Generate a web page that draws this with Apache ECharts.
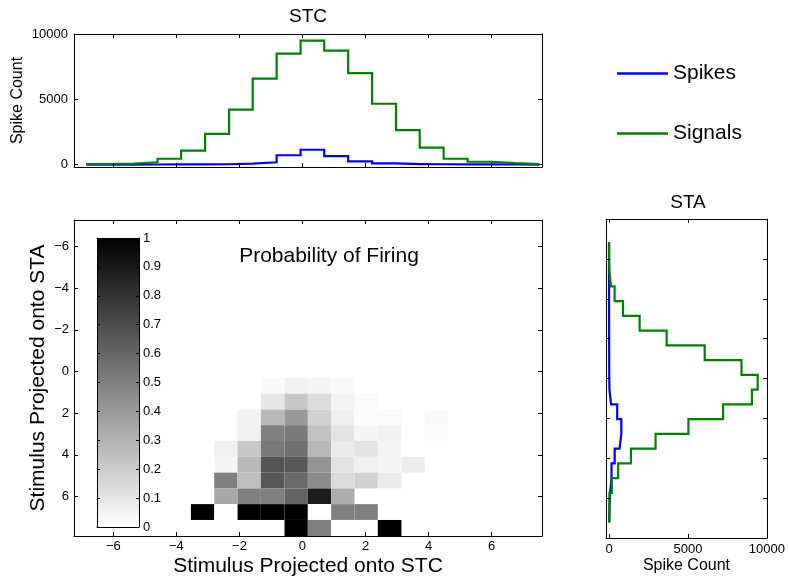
<!DOCTYPE html>
<html>
<head>
<meta charset="utf-8">
<script src="https://cdn.jsdelivr.net/npm/echarts@6/dist/echarts.min.js"></script>
<style>html,body{margin:0;padding:0;background:#fff}#c{width:788px;height:582px}</style>
</head>
<body>
<div id="c"></div>
<script>
// ---- data ----
const stcCenters = [-6.86,-6.11,-5.35,-4.60,-3.85,-3.09,-2.33,-1.58,-0.82,-0.06,0.69,1.45,2.21,2.97,3.72,4.48,5.24,6.00,6.75,7.51];
const stcSpikes  = [5,8,12,15,20,30,75,180,720,1140,650,255,90,45,30,20,15,10,5,2];
const stcSignals = [50,85,185,450,1070,2360,4210,6580,8500,9490,8720,7000,4660,2650,1310,450,220,110,45,20];

const staCenters = [-6.84,-6.10,-5.36,-4.62,-3.88,-3.14,-2.40,-1.66,-0.92,-0.18,0.56,1.30,2.04,2.78,3.52,4.26,5.00,5.74,6.48,7.22];
const staSpikes  = [0,0,5,5,5,8,10,12,15,30,130,520,780,670,360,160,70,30,15,5];
const staSignals = [10,30,125,355,885,1940,3650,6060,8390,9415,9050,7225,5030,2950,1390,580,180,30,25,10];

const probXEdges = [-7.25,-6.51,-5.77,-5.03,-4.28,-3.54,-2.80,-2.06,-1.32,-0.57,0.17,0.91,1.65,2.39,3.14,3.88,4.62,5.36,6.10,6.84,7.60];
const probYEdges = [-7.27,-6.51,-5.75,-4.99,-4.24,-3.48,-2.72,-1.96,-1.21,-0.45,0.31,1.07,1.83,2.58,3.34,4.10,4.86,5.62,6.37,7.13,7.90];
// [column, row, probability]
const probCells = [
  [8,10,0.02],[9,10,0.055],[10,10,0.04],[11,10,0.024],
  [8,11,0.10],[9,11,0.22],[10,11,0.14],[11,11,0.043],[12,11,0.016],
  [7,12,0.05],[8,12,0.28],[9,12,0.40],[10,12,0.18],[11,12,0.067],[12,12,0.016],[13,12,0.016],[15,12,0.02],
  [7,13,0.06],[8,13,0.50],[9,13,0.52],[10,13,0.24],[11,13,0.11],[12,13,0.04],[13,13,0.05],[15,13,0.016],
  [6,14,0.06],[7,14,0.22],[8,14,0.53],[9,14,0.56],[10,14,0.28],[11,14,0.08],[12,14,0.11],[13,14,0.04],
  [6,15,0.04],[7,15,0.28],[8,15,0.67],[9,15,0.66],[10,15,0.42],[11,15,0.11],[12,15,0.06],[13,15,0.04],[14,15,0.075],
  [6,16,0.50],[7,16,0.25],[8,16,0.66],[9,16,0.59],[10,16,0.45],[11,16,0.14],[12,16,0.18],[13,16,0.08],
  [6,17,0.34],[7,17,0.50],[8,17,0.50],[9,17,0.61],[10,17,0.89],[11,17,0.32],
  [5,18,1],[6,18,0],[7,18,1],[8,18,1],[9,18,1],[10,18,0],[11,18,0.5],[12,18,0.5],
  [9,19,1],[10,19,0.5],[11,19,0],[12,19,0],[13,19,1]
];

const posTicks = [-6,-4,-2,0,2,4,6];
const countTicks = [0,5000,10000];
const colorbarTicks = [0,0.1,0.2,0.3,0.4,0.5,0.6,0.7,0.8,0.9,1];

// ---- helpers ----
const FONT = '"Liberation Sans", Arial, Helvetica, sans-serif';
const BLACK = '#000';
const BLUE = '#0000ff';
const GREEN = '#008000';
function fmt(v){ return v < 0 ? '\u2212' + Math.abs(v) : String(v); }

function axis(o){
  const a = {
    type: 'value', gridIndex: o.grid, position: o.pos, min: o.min, max: o.max,
    inverse: !!o.inverse, z: 10, silent: true,
    axisLine: {show: true, onZero: false, lineStyle: {color: BLACK, width: 1}},
    axisTick: {show: !!o.ticks, inside: true, length: o.tickLen || 4, lineStyle: {color: BLACK, width: 1}},
    axisLabel: {show: !!o.labels, margin: o.margin == null ? 4 : o.margin, color: BLACK,
                fontFamily: FONT, fontSize: 13, formatter: fmt},
    splitLine: {show: false}
  };
  if (o.ticks) a.axisTick.customValues = o.ticks;
  if (o.labels) a.axisLabel.customValues = o.labels;
  if (o.name) {
    a.name = o.name; a.nameLocation = 'middle'; a.nameGap = o.nameGap;
    a.nameMoveOverlap = false;
    a.nameTextStyle = {fontFamily: FONT, fontSize: o.nameSize, color: BLACK};
  }
  return a;
}

function stairsVertical(counts, centers){
  const pts = [];
  for (let k = 0; k < counts.length; k++) {
    pts.push([counts[k], centers[k]]);
    if (k + 1 < centers.length) pts.push([counts[k], centers[k + 1]]);
  }
  return pts;
}

const XMIN = -7.25, XMAX = 7.6, YMIN = -7.27, YMAX = 7.9;
const lineStyle = (c) => ({color: c, width: 2.2, join: 'miter', cap: 'butt'});

const option = {
  animation: false,
  backgroundColor: '#fff',
  textStyle: {fontFamily: FONT},
  grid: [
    {left: 74, top: 34, width: 468, height: 133},
    {left: 74, top: 220, width: 468, height: 318},
    {left: 606, top: 219, width: 163, height: 319},
    {left: 97, top: 238, width: 42, height: 289}
  ],
  xAxis: [
    axis({grid: 0, pos: 'bottom', min: XMIN, max: XMAX, ticks: posTicks}),
    axis({grid: 0, pos: 'top', min: XMIN, max: XMAX, ticks: posTicks}),
    axis({grid: 1, pos: 'bottom', min: XMIN, max: XMAX, ticks: posTicks, labels: posTicks, margin: 4,
          name: 'Stimulus Projected onto STC', nameGap: 20, nameSize: 21}),
    axis({grid: 1, pos: 'top', min: XMIN, max: XMAX, ticks: posTicks}),
    axis({grid: 2, pos: 'bottom', min: -190, max: 10000, ticks: countTicks, labels: countTicks, margin: 5,
          name: 'Spike Count', nameGap: 20, nameSize: 16}),
    axis({grid: 2, pos: 'top', min: -190, max: 10000, ticks: countTicks}),
    axis({grid: 3, pos: 'bottom', min: 0, max: 1}),
    axis({grid: 3, pos: 'top', min: 0, max: 1})
  ],
  yAxis: [
    axis({grid: 0, pos: 'left', min: -180, max: 10000, ticks: countTicks, labels: countTicks, margin: 6,
          name: 'Spike Count', nameGap: 48, nameSize: 16}),
    axis({grid: 0, pos: 'right', min: -180, max: 10000, ticks: countTicks}),
    axis({grid: 1, pos: 'left', min: YMIN, max: YMAX, inverse: true, ticks: posTicks, labels: posTicks, margin: 5,
          name: 'Stimulus Projected onto STA', nameGap: 25, nameSize: 21}),
    axis({grid: 1, pos: 'right', min: YMIN, max: YMAX, inverse: true, ticks: posTicks}),
    axis({grid: 2, pos: 'left', min: -8, max: 8, inverse: true, ticks: posTicks}),
    axis({grid: 2, pos: 'right', min: -8, max: 8, inverse: true, ticks: posTicks}),
    axis({grid: 3, pos: 'left', min: 0, max: 1, ticks: colorbarTicks, tickLen: 3}),
    axis({grid: 3, pos: 'right', min: 0, max: 1, ticks: colorbarTicks, labels: colorbarTicks, tickLen: 3, margin: 4})
  ],
  legend: {
    orient: 'vertical', left: 617, top: 63, padding: 0,
    icon: 'rect', itemWidth: 51, itemHeight: 2.5, itemGap: 39,
    textStyle: {fontFamily: FONT, fontSize: 21, color: BLACK, lineHeight: 21},
    data: ['Spikes', 'Signals'],
    selectedMode: false
  },
  graphic: [
    {type: 'text', x: 308, y: 16.5, style: {text: 'STC', font: '19px ' + FONT, fill: BLACK, align: 'center', verticalAlign: 'middle'}},
    {type: 'text', x: 688, y: 203, style: {text: 'STA', font: '19px ' + FONT, fill: BLACK, align: 'center', verticalAlign: 'middle'}},
    {type: 'text', x: 329, y: 256, z: 20, style: {text: 'Probability of Firing', font: '21px ' + FONT, fill: BLACK, align: 'center', verticalAlign: 'middle'}}
  ],
  series: [
    {name: 'Spikes', type: 'line', xAxisIndex: 0, yAxisIndex: 0, step: 'end', symbol: 'none',
     color: BLUE, lineStyle: lineStyle(BLUE), data: stcCenters.map((x, i) => [x, stcSpikes[i]])},
    {name: 'Signals', type: 'line', xAxisIndex: 0, yAxisIndex: 0, step: 'end', symbol: 'none',
     color: GREEN, lineStyle: lineStyle(GREEN), data: stcCenters.map((x, i) => [x, stcSignals[i]])},
    {name: 'Probability', type: 'custom', xAxisIndex: 2, yAxisIndex: 2, data: probCells,
     renderItem: function (params, api) {
       const c = api.value(0), r = api.value(1), p = api.value(2);
       const a = api.coord([probXEdges[c], probYEdges[r]]);
       const b = api.coord([probXEdges[c + 1], probYEdges[r + 1]]);
       const g = Math.round(255 * (1 - p));
       return {type: 'rect',
         shape: {x: Math.min(a[0], b[0]), y: Math.min(a[1], b[1]), width: Math.abs(b[0] - a[0]), height: Math.abs(b[1] - a[1])},
         style: {fill: 'rgb(' + g + ',' + g + ',' + g + ')'}};
     }},
    {name: 'Spikes', type: 'line', xAxisIndex: 4, yAxisIndex: 4, symbol: 'none',
     color: BLUE, lineStyle: lineStyle(BLUE), data: stairsVertical(staSpikes, staCenters)},
    {name: 'Signals', type: 'line', xAxisIndex: 4, yAxisIndex: 4, symbol: 'none',
     color: GREEN, lineStyle: lineStyle(GREEN), data: stairsVertical(staSignals, staCenters)},
    {name: 'Colorbar', type: 'custom', xAxisIndex: 6, yAxisIndex: 6, data: [[0, 0, 1, 1]],
     renderItem: function (params, api) {
       const a = api.coord([api.value(0), api.value(1)]);
       const b = api.coord([api.value(2), api.value(3)]);
       return {type: 'rect',
         shape: {x: a[0], y: b[1], width: b[0] - a[0], height: a[1] - b[1]},
         style: {fill: new echarts.graphic.LinearGradient(0, 0, 0, 1, [{offset: 0, color: '#000'}, {offset: 1, color: '#fff'}])}};
     }}
  ]
};

const chart = echarts.init(document.getElementById('c'), null, {renderer: 'canvas'});
chart.setOption(option);
</script>
</body>
</html>
